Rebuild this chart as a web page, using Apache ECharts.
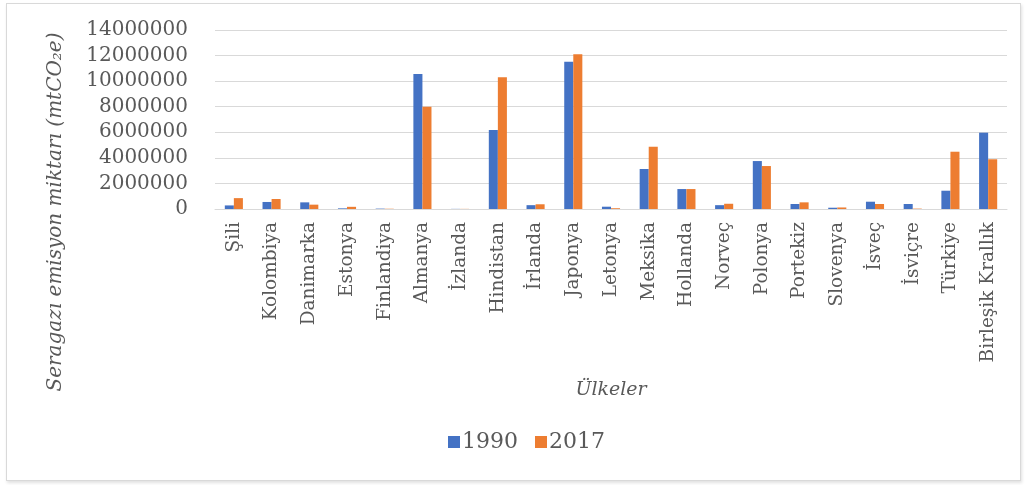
<!DOCTYPE html>
<html>
<head>
<meta charset="utf-8">
<script src="https://cdn.jsdelivr.net/npm/echarts@6/dist/echarts.min.js"></script>
<style>
html,body{margin:0;padding:0;background:#fff;}
#frame{position:absolute;left:6px;top:3px;width:1013px;height:476px;border:1px solid #d9d9d9;box-shadow:1px 2px 3px rgba(0,0,0,0.12);}
#chart{position:absolute;left:0;top:0;width:1028px;height:485px;}
</style>
</head>
<body>
<div id="frame"></div>
<div id="chart"></div>
<script>
const categories = ["Şili","Kolombiya","Danimarka","Estonya","Finlandiya","Almanya","İzlanda","Hindistan","İrlanda","Japonya","Letonya","Meksika","Hollanda","Norveç","Polonya","Portekiz","Slovenya","İsveç","İsviçre","Türkiye","Birleşik Krallık"];
const values1990 = [280000,550000,520000,50000,30000,10550000,10000,6180000,300000,11520000,180000,3130000,1560000,300000,3750000,390000,100000,570000,390000,1430000,5970000];
const values2017 = [850000,780000,340000,170000,20000,8000000,10000,10300000,370000,12100000,60000,4870000,1560000,410000,3360000,520000,120000,390000,30000,4480000,3890000];
const yTicks = [0,2000000,4000000,6000000,8000000,10000000,12000000,14000000];
const seriesNames = ["1990","2017"];
const yTitle = 'Seragazı emisyon miktarı (mtCO₂e)';
const xTitle = 'Ülkeler';

const chart = echarts.init(document.getElementById('chart'), null, {renderer:'canvas'});
const font = '"DejaVu Serif",serif';
chart.setOption({
  backgroundColor: 'transparent',
  animation: false,
  grid: {left: 215, right: 21, top: 30, bottom: 276, outerBoundsMode: 'none', containLabel: false},
  legend: {
    data: seriesNames,
    bottom: 27,
    left: 443,
    itemWidth: 12, itemHeight: 12, itemGap: 17,
    icon: 'rect',
    textStyle: {fontFamily: font, fontSize: 22, color: '#595959', padding: [0,0,0,-3]}
  },
  graphic: [{
    type: 'text',
    x: 56, y: 212,
    rotation: Math.PI / 2,
    style: {
      text: yTitle,
      fontFamily: font, fontSize: 20, fontStyle: 'italic',
      fill: '#595959',
      align: 'center', verticalAlign: 'middle'
    }
  }],
  xAxis: {
    type: 'category',
    data: categories,
    axisLine: {lineStyle: {color: '#d9d9d9'}},
    axisTick: {show: false},
    axisLabel: {rotate: 90, interval: 0, margin: 13, fontFamily: font, fontSize: 18.5, color: '#595959'},
    name: xTitle,
    nameLocation: 'middle',
    nameGap: 172,
    nameTextStyle: {fontFamily: font, fontSize: 19, fontStyle: 'italic', color: '#595959'}
  },
  yAxis: {
    type: 'value',
    min: yTicks[0],
    max: yTicks[yTicks.length-1],
    interval: 2000000,
    axisLine: {show: false},
    axisTick: {show: false},
    splitLine: {lineStyle: {color: '#d9d9d9'}},
    axisLabel: {margin: 27, fontFamily: font, fontSize: 20, color: '#595959', formatter: v => String(v)}
  },
  series: [
    {name: seriesNames[0], type: 'bar', data: values1990, itemStyle: {color: '#4472C4'}, barGap: '0%', barCategoryGap: '52%'},
    {name: seriesNames[1], type: 'bar', data: values2017, itemStyle: {color: '#ED7D31'}, barGap: '0%', barCategoryGap: '52%'}
  ]
});
</script>
</body>
</html>
